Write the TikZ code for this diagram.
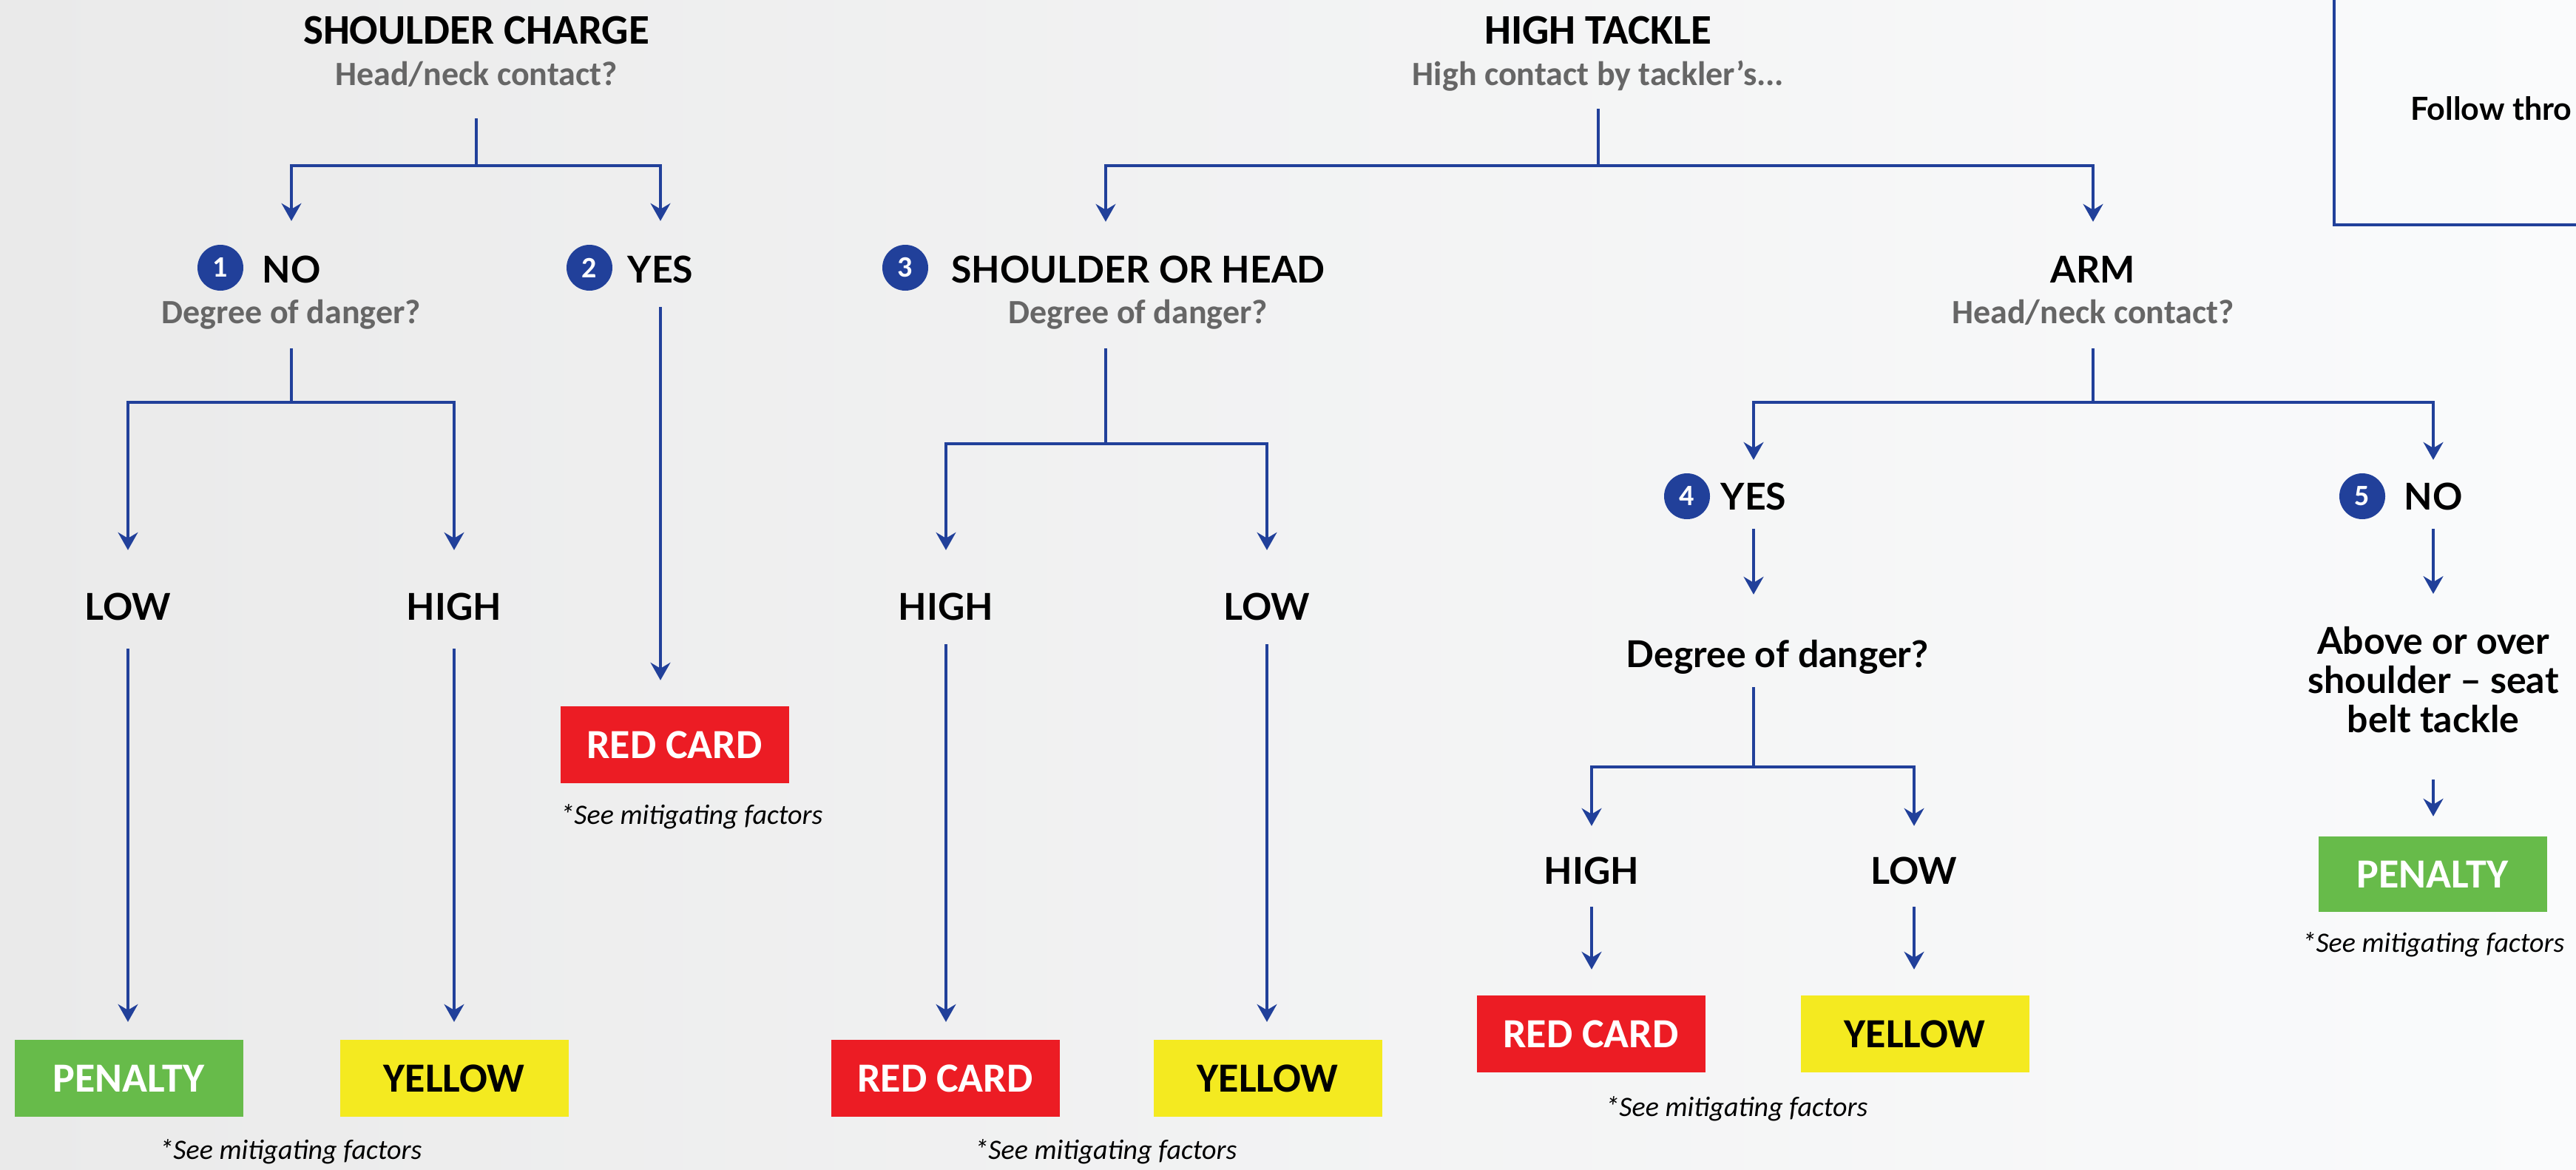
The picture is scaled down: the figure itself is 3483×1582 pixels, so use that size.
\documentclass[tikz,border=0pt]{standalone}
\usepackage{fontspec}
\setmainfont{Carlito}
\newfontfamily\latofont{Lato}
\usetikzlibrary{arrows.meta,calc}
\definecolor{wrblue}{HTML}{21409A}
\definecolor{wrgreen}{HTML}{67BB4A}
\definecolor{wryellow}{HTML}{F4EA20}
\definecolor{wrred}{HTML}{EC1C24}
\definecolor{wrgray}{HTML}{666666}
\definecolor{bgL}{HTML}{EAEAEA}
\definecolor{bgR}{HTML}{FAFBFC}
\tikzset{
 conn/.style={draw=wrblue, line width=3.2pt, -{Stealth[length=24pt,width=27pt,inset=8pt]}},
 plainln/.style={draw=wrblue, line width=3.2pt},
 hd/.style={font=\fontsize{57}{60}\selectfont\bfseries, text height=35pt, text depth=0pt, inner sep=0pt},
 subq/.style={font=\fontsize{46}{50}\selectfont\bfseries, text=wrgray, text height=30pt, text depth=0pt, inner sep=0pt},
 optxt/.style={font=\latofont\fontsize{50}{53}\selectfont\bfseries, text height=36pt, text depth=0pt, inner sep=0pt},
 numc/.style={circle, fill=wrblue, minimum size=62pt, inner sep=0pt, text=white, font=\fontsize{40}{40}\selectfont\bfseries},
 card/.style={minimum width=309pt, minimum height=104pt, inner sep=0pt, font=\fontsize{56}{56}\selectfont\bfseries},
 pencard/.style={card, fill=wrgreen, text=white},
 yelcard/.style={card, fill=wryellow, text=black},
 redcard/.style={card, fill=wrred, text=white},
 mitnote/.style={font=\fontsize{38}{38}\selectfont\itshape, inner sep=0pt},
}
\begin{document}
\begin{tikzpicture}[x=1pt,y=-1pt]
\shade[left color=bgL, right color=bgR] (0,0) rectangle (3483,1582);
\useasboundingbox (0,0) rectangle (3483,1582);

% top-right box
\coordinate (tbA) at (3156,-20);
\coordinate (tbB) at (3156,304);
\coordinate (tbC) at (3530,304);
\draw[plainln] (tbA) -- (tbB) -- (tbC);
\node[anchor=west, font=\latofont\fontsize{43}{50}\selectfont\bfseries, inner sep=0pt] (follow) at (3259,147) {Follow thro};

% ---------- SHOULDER CHARGE ----------
\node[hd] (sc) at (644,42) {SHOULDER CHARGE};
\node[subq] (scq) at (644,100) {Head/neck contact?};
\coordinate (scj) at (644,224);
\node[numc] (c1) at (298,362) {1};
\node[optxt] (no1) at (394,364) {NO};
\node[numc] (c2) at (797,362) {2};
\node[optxt] (yes2) at (893,364) {YES};
\draw[plainln, shorten <=45pt] (scq.south) -- (scj);
\draw[conn, shorten >=47pt] (scj) -| (no1.north);
\draw[conn, shorten >=47pt] (scj) -| (yes2.north);

\node[subq] (no1q) at (394,422) {Degree of danger?};
\coordinate (j1) at (394,544);
\node[optxt] (low1) at (173,820) {LOW};
\node[optxt] (high1) at (614,820) {HIGH};
\draw[plainln, shorten <=34pt] (no1q.south) -- (j1);
\draw[conn, shorten >=58pt] (j1) -| (low1.north);
\draw[conn, shorten >=58pt] (j1) -| (high1.north);

\node[pencard] (pen1) at (174,1458) {PENALTY};
\node[yelcard] (yel1) at (614,1458) {YELLOW};
\draw[conn, shorten <=39pt, shorten >=24pt] (low1.south) -- (low1.south |- pen1.north);
\draw[conn, shorten <=39pt, shorten >=24pt] (high1.south) -- (high1.south |- yel1.north);
\node[mitnote] (mit1) at (393,1557) {*See mitigating factors};

\node[redcard] (rc1) at (912,1007) {RED CARD};
\draw[conn, shorten <=33pt, shorten >=35pt] (yes2.south) -- (yes2.south |- rc1.north);
\node[mitnote] (mit2) at (935,1104) {*See mitigating factors};

% ---------- HIGH TACKLE ----------
\node[hd] (ht) at (2161,42) {HIGH TACKLE};
\node[subq] (htq) at (2161,100) {High contact by tackler’s...};
\coordinate (htj) at (2161,224);
\node[numc] (c3) at (1224,362) {3};
\node[optxt] (soh) at (1539,364) {SHOULDER OR HEAD};
\node[optxt] (arm) at (2830,364) {ARM};
\draw[plainln, shorten <=32pt] (htq.south) -- (htj);
\draw[conn, shorten >=46pt] (htj) -| ([xshift=-44pt]soh.north);
\draw[conn, shorten >=46pt] (htj) -| (arm.north);

\node[subq] (sohq) at (1539,422) {Degree of danger?};
\coordinate (j3) at (1495,600);
\node[optxt] (high2) at (1279,820) {HIGH};
\node[optxt] (low2) at (1713,820) {LOW};
\draw[plainln, shorten <=34pt] ([xshift=-44pt]sohq.south) -- (j3);
\draw[conn, shorten >=58pt] (j3) -| (high2.north);
\draw[conn, shorten >=58pt] (j3) -| (low2.north);

\node[redcard] (rc2) at (1278,1458) {RED CARD};
\node[yelcard] (yel2) at (1714,1458) {YELLOW};
\draw[conn, shorten <=33pt, shorten >=24pt] (high2.south) -- (high2.south |- rc2.north);
\draw[conn, shorten <=33pt, shorten >=24pt] (low2.south) -- (low2.south |- yel2.north);
\node[mitnote] (mit3) at (1495,1557) {*See mitigating factors};

% ARM branch
\node[subq] (armq) at (2830,422) {Head/neck contact?};
\coordinate (j4) at (2830,544);
\node[numc] (c4) at (2281,671) {4};
\node[optxt] (yes4) at (2371,671) {YES};
\node[numc] (c5) at (3194,671) {5};
\node[optxt] (no5) at (3290,671) {NO};
\draw[plainln, shorten <=34pt] (armq.south) -- (j4);
\draw[conn, shorten >=31pt] (j4) -| (yes4.north);
\draw[conn, shorten >=31pt] (j4) -| (no5.north);

\node[optxt] (dd4) at (2403,884) {Degree of danger?};
\draw[conn, shorten <=26pt, shorten >=62pt] (yes4.south) -- (yes4.south |- dd4.north);
\coordinate (j5) at (2371,1037);
\node[optxt] (high3) at (2152,1177) {HIGH};
\node[optxt] (low3) at (2588,1177) {LOW};
\draw[plainln, shorten <=27pt] (yes4.south |- dd4.south) -- (j5);
\draw[conn, shorten >=42pt] (j5) -| (high3.north);
\draw[conn, shorten >=42pt] (j5) -| (low3.north);

\node[redcard] (rc3) at (2151,1398) {RED CARD};
\node[yelcard] (yel3) at (2589,1398) {YELLOW};
\draw[conn, shorten <=31pt, shorten >=35pt] (high3.south) -- (high3.south |- rc3.north);
\draw[conn, shorten <=31pt, shorten >=35pt] (low3.south) -- (low3.south |- yel3.north);
\node[mitnote] (mit4) at (2348,1499) {*See mitigating factors};

\node[anchor=north, align=center, inner sep=0pt, font=\latofont\fontsize{50}{53}\selectfont\bfseries] (seat) at (3290,847) {Above or over\\shoulder – seat\\belt tackle};
\draw[conn, shorten <=26pt, shorten >=44pt] (no5.south) -- (no5.south |- seat.north);
\node[pencard, minimum height=102pt] (pen5) at (3289,1182) {PENALTY};
\draw[conn, shorten <=63pt, shorten >=27pt] (seat.south) -- (seat.south |- pen5.north);
\node[mitnote] (mit5) at (3290,1277) {*See mitigating factors};
\end{tikzpicture}
\end{document}
